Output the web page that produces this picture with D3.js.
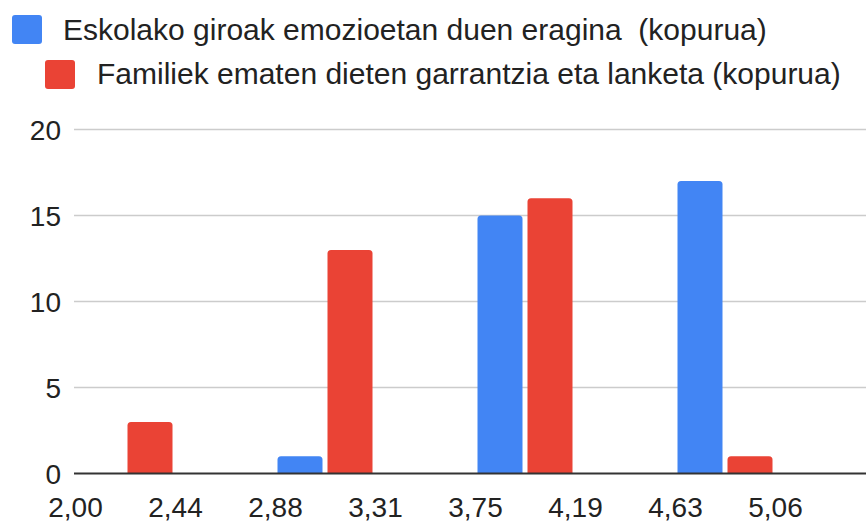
<!DOCTYPE html>
<html>
<head>
<meta charset="utf-8">
<script src="https://cdn.jsdelivr.net/npm/d3@7"></script>
<style>
  html, body { margin: 0; padding: 0; background: #fff; }
  svg { display: block; font-family: "Liberation Sans", Arial, sans-serif; }
</style>
</head>
<body>
<svg id="chart" width="866" height="523"></svg>
<script>
// ---- data ----
const seriesNames = [
  "Eskolako giroak emozioetan duen eragina  (kopurua)",
  "Familiek ematen dieten garrantzia eta lanketa (kopurua)"
];
const seriesColors = ["#4285f4", "#ea4335"];
const binStarts = [2.0, 2.4375, 2.875, 3.3125, 3.75, 4.1875, 4.625, 5.0625];
const binWidth = 0.4375;
const tickLabels = ["2,00", "2,44", "2,88", "3,31", "3,75", "4,19", "4,63", "5,06"];
const eskolakoValues = [0, 0, 1, 0, 15, 0, 17, 0];
const familiekValues = [3, 0, 13, 0, 16, 0, 1, 0];
const yTicks = [0, 5, 10, 15, 20];

const seriesValues = [eskolakoValues, familiekValues];

// ---- layout ----
const svg = d3.select("#chart");
const plotLeft = 74, plotRight = 866, plotTop = 129.5, plotBottom = 473.5;

const x = d3.scaleLinear().domain([2.0, 2.0 + 8 * binWidth]).range([75, 875]);
const y = d3.scaleLinear().domain([0, 20]).range([plotBottom, plotTop]);
const inner = d3.scaleBand().domain([0, 1]).range([0, x(binStarts[0] + binWidth) - x(binStarts[0])])
  .paddingInner(0.1).paddingOuter(0.05);

// gridlines
svg.append("g").selectAll("line").data(yTicks.filter(d => d !== 0)).join("line")
  .attr("x1", plotLeft).attr("x2", plotRight)
  .attr("y1", d => y(d)).attr("y2", d => y(d))
  .attr("stroke", "#cccccc").attr("stroke-width", 1.6);

// bars
function topRounded(x0, y0, w, h, r) {
  r = Math.min(r, h, w / 2);
  return `M${x0},${y0 + h}V${y0 + r}Q${x0},${y0} ${x0 + r},${y0}H${x0 + w - r}Q${x0 + w},${y0} ${x0 + w},${y0 + r}V${y0 + h}Z`;
}
const barData = [];
seriesValues.forEach((vals, s) => {
  vals.forEach((v, i) => { if (v > 0) barData.push({ s, i, v }); });
});
svg.append("g").selectAll("path").data(barData).join("path")
  .attr("d", d => {
    const bx = x(binStarts[d.i]) + inner(d.s);
    const by = y(d.v);
    return topRounded(bx, by, inner.bandwidth(), plotBottom - by, 3.5);
  })
  .attr("fill", d => seriesColors[d.s]);

// baseline
svg.append("line")
  .attr("x1", plotLeft).attr("x2", plotRight)
  .attr("y1", y(0)).attr("y2", y(0))
  .attr("stroke", "#333333").attr("stroke-width", 2);

// y axis
const yAxis = svg.append("g").attr("transform", "translate(61,0)")
  .call(d3.axisLeft(y).tickValues(yTicks).tickSize(0).tickPadding(0).tickFormat(d3.format("d")));
yAxis.select(".domain").remove();
yAxis.selectAll("text").attr("font-size", 28).attr("fill", "#222")
  .attr("font-family", "'Liberation Sans', Arial, sans-serif").attr("dy", "0.36em");

// x axis
const xAxis = svg.append("g").attr("transform", `translate(0,${plotBottom})`)
  .call(d3.axisBottom(x).tickValues(binStarts).tickSize(0).tickPadding(0)
    .tickFormat((d, i) => tickLabels[i]));
xAxis.select(".domain").remove();
xAxis.selectAll("text").attr("font-size", 28).attr("fill", "#222")
  .attr("font-family", "'Liberation Sans', Arial, sans-serif")
  .attr("dy", null).attr("y", 43.5);

// legend
const legendPos = [
  { sx: 12, sy: 15, tx: 63, ty: 40 },
  { sx: 45, sy: 60, tx: 97, ty: 84 }
];
const leg = svg.append("g").selectAll("g").data(seriesNames).join("g");
leg.append("rect")
  .attr("x", (d, i) => legendPos[i].sx).attr("y", (d, i) => legendPos[i].sy)
  .attr("width", 30).attr("height", 29).attr("rx", 3)
  .attr("fill", (d, i) => seriesColors[i]);
leg.append("text")
  .attr("x", (d, i) => legendPos[i].tx).attr("y", (d, i) => legendPos[i].ty)
  .attr("font-size", 30).attr("fill", "#222")
  .style("white-space", "pre")
  .attr("xml:space", "preserve")
  .text(d => d);
</script>
</body>
</html>
